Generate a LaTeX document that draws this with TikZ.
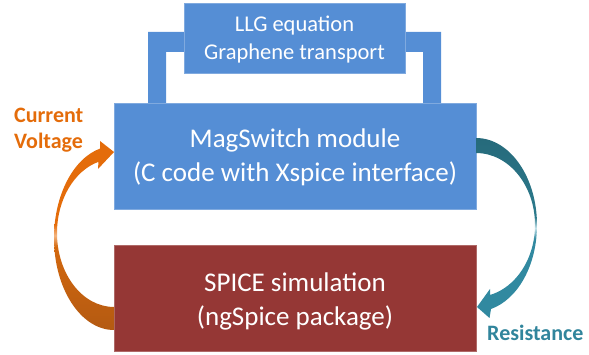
\documentclass[tikz,border=0pt]{standalone}
\usepackage{fontspec}
\setmainfont{Carlito}
\definecolor{boxblue}{HTML}{558ED5}
\definecolor{boxred}{HTML}{953735}
\definecolor{orgtop}{HTML}{E46C0A}
\definecolor{orgmid}{HTML}{F4B47E}
\definecolor{orglow}{HTML}{D3680E}
\definecolor{orgbot}{HTML}{B45A12}
\definecolor{tealtop}{HTML}{266A7B}
\definecolor{tealtopb}{HTML}{2C7A8C}
\definecolor{tealmid}{HTML}{C6E3EA}
\definecolor{tealbot}{HTML}{3189A0}
\definecolor{labelorange}{HTML}{E46C0A}
\definecolor{labelteal}{HTML}{31859C}
\pgfdeclareverticalshading{orangeshade}{100bp}{color(0bp)=(orgbot); color(25bp)=(orgbot); color(47bp)=(orglow); color(50bp)=(orgmid); color(53bp)=(orgtop); color(75bp)=(orgtop); color(100bp)=(orgtop)}
\pgfdeclareverticalshading{tealshade}{100bp}{color(0bp)=(tealbot); color(25bp)=(tealbot); color(47bp)=(tealbot); color(50bp)=(tealmid); color(53bp)=(tealtopb); color(75bp)=(tealtop); color(100bp)=(tealtop)}
\begin{document}
\begin{tikzpicture}[x=1pt,y=-1pt,
  bluebox/.style={fill=boxblue, draw=boxblue!75!white, line width=0.6pt, inner sep=0pt, outer sep=0pt},
  redbox/.style={fill=boxred, draw=boxred!75!white, line width=0.6pt, inner sep=0pt, outer sep=0pt},
  bigtext/.style={anchor=base, text=white, inner sep=0pt, font=\fontsize{27}{32}\selectfont},
  smalltext/.style={anchor=base, text=white, inner sep=0pt, font=\fontsize{22.5}{27}\selectfont},
  sidelabel/.style={anchor=base west, inner sep=0pt, font=\fontsize{22}{26}\selectfont\bfseries}]
\useasboundingbox (0,0) rectangle (589,355);
% bracket joining the two blue boxes
\fill[boxblue] (148,104) -- (148,32) -- (441,32) -- (441,104) -- (423,104) -- (423,52) -- (166,52) -- (166,104) -- cycle;
% boxes
\node[bluebox, minimum width=221pt, minimum height=70pt] (topbox) at (294.5,38) {};
\node[bluebox, minimum width=362pt, minimum height=106pt] (mag) at (295,156) {};
\node[redbox, minimum width=362pt, minimum height=106pt] (spice) at (295,298) {};
% texts
\node[smalltext] (llg) at (294.5,31.5) {LLG equation};
\node[smalltext] (graph) at (294.5,59.5) {Graphene transport};
\node[bigtext] (mag1) at (295,148) {MagSwitch module};
\node[bigtext] (mag2) at (295,182) {(C code with Xspice interface)};
\node[bigtext] (sp1) at (295,292) {SPICE simulation};
\node[bigtext] (sp2) at (295,326) {(ngSpice package)};
\node[sidelabel, text=labelorange] (cur) at (14,123) {Current};
\node[sidelabel, text=labelorange] (volt) at (14,149) {Voltage};
\node[sidelabel, text=labelteal] (res) at (487,341) {Resistance};
% orange curved arrow (SPICE -> MagSwitch)
\shade[shading=orangeshade]
  (114,330) .. controls (80.9,330) and (54,288.8) .. (54,238)
  .. controls (54,195.6) and (73.1,158.5) .. (100,148.6)
  -- (100,141) -- (114,152) -- (98,169) -- (98.5,161.8)
  .. controls (74,170.8) and (57,199.9) .. (57,233)
  .. controls (57,273.9) and (82.5,307) .. (114,307) -- cycle;
% teal curved arrow (MagSwitch -> SPICE)
\shade[shading=tealshade]
  (476,138) .. controls (509.7,138) and (537,177) .. (537,225)
  .. controls (537,265) and (518.1,299.2) .. (491,309)
  -- (489.5,318) -- (477,307) -- (490,289) -- (490,295)
  .. controls (516.4,287.1) and (535,258.2) .. (535,225)
  .. controls (535,185.3) and (508.6,153) .. (476,153) -- cycle;
\end{tikzpicture}
\end{document}
